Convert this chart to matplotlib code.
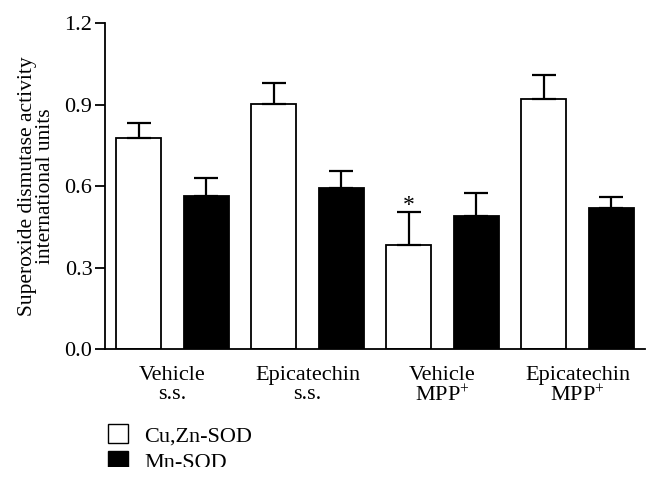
import numpy as np
import matplotlib
matplotlib.use('Agg')
import matplotlib.pyplot as plt
from matplotlib.patches import Patch, Rectangle

plt.rcParams['font.family'] = ['Liberation Serif', 'DejaVu Serif']
plt.rcParams['mathtext.fontset'] = 'custom'
plt.rcParams['mathtext.rm'] = 'Liberation Serif'
plt.rcParams['mathtext.it'] = 'Liberation Serif:italic'

groups = ['Vehicle\ns.s.', 'Epicatechin\ns.s.', 'Vehicle\nMPP$^{+}$', 'Epicatechin\nMPP$^{+}$']
cuzn = [0.777, 0.903, 0.382, 0.919]
cuzn_err = [0.056, 0.076, 0.121, 0.091]
mn = [0.563, 0.594, 0.489, 0.519]
mn_err = [0.065, 0.062, 0.086, 0.039]
signif = ['', '', '*', '']

fig = plt.figure(figsize=(6.59, 4.82), dpi=100)
ax = fig.add_axes([0.1593, 0.276, 0.8197, 0.676])

x = np.arange(len(groups)) * 2
w = 0.665
ekw = dict(elinewidth=1.6, capthick=1.6, ecolor='black')
ax.bar(x, cuzn, w, color='white', edgecolor='black', linewidth=1.3,
       yerr=[np.zeros(4), cuzn_err], capsize=8.5, error_kw=ekw, label='Cu,Zn-SOD')
ax.bar(x + 1, mn, w, color='black', edgecolor='black', linewidth=1.3,
       yerr=[np.zeros(4), mn_err], capsize=8.5, error_kw=ekw, label='Mn-SOD')
for i, s in enumerate(signif):
    if s:
        ax.text(x[i], cuzn[i] + cuzn_err[i] - 0.012, s, ha='center', va='bottom', fontsize=17)

ax.set_xlim(-0.5, 7.5)
ax.set_ylim(0, 1.2)
ax.set_yticks([0.0, 0.3, 0.6, 0.9, 1.2])
ax.set_yticklabels(['0.0', '0.3', '0.6', '0.9', '1.2'])
ax.set_xticks(x + 0.5)
ax.set_xticklabels(groups, fontsize=16, linespacing=1.05)
ax.tick_params(axis='x', length=0, pad=12)
ax.tick_params(axis='y', length=7, width=1.3, labelsize=16, pad=2)
for side in ['top', 'right']:
    ax.spines[side].set_visible(False)
ax.spines['left'].set_linewidth(1.3)
ax.spines['bottom'].set_linewidth(1.3)
ax.set_ylabel('Superoxide dismutase activity\ninternational units', fontsize=15.5,
              linespacing=0.95, labelpad=7)

handles = [Patch(facecolor='white', edgecolor='black', linewidth=1.0, label='Cu,Zn-SOD'),
           Patch(facecolor='black', edgecolor='black', label='Mn-SOD')]
fig.legend(handles=handles, loc='upper left', bbox_to_anchor=(0.15, 0.138),
           frameon=False, fontsize=16, handlelength=0.9, handleheight=0.9,
           handletextpad=0.75, labelspacing=0.2, borderaxespad=0)

# the source picture is cropped just under the last legend entry
fig.patches.append(Rectangle((0, 0), 1, 15 / 482, transform=fig.transFigure,
                             facecolor='white', edgecolor='none', zorder=10))

fig.savefig('out.png', dpi=100)
